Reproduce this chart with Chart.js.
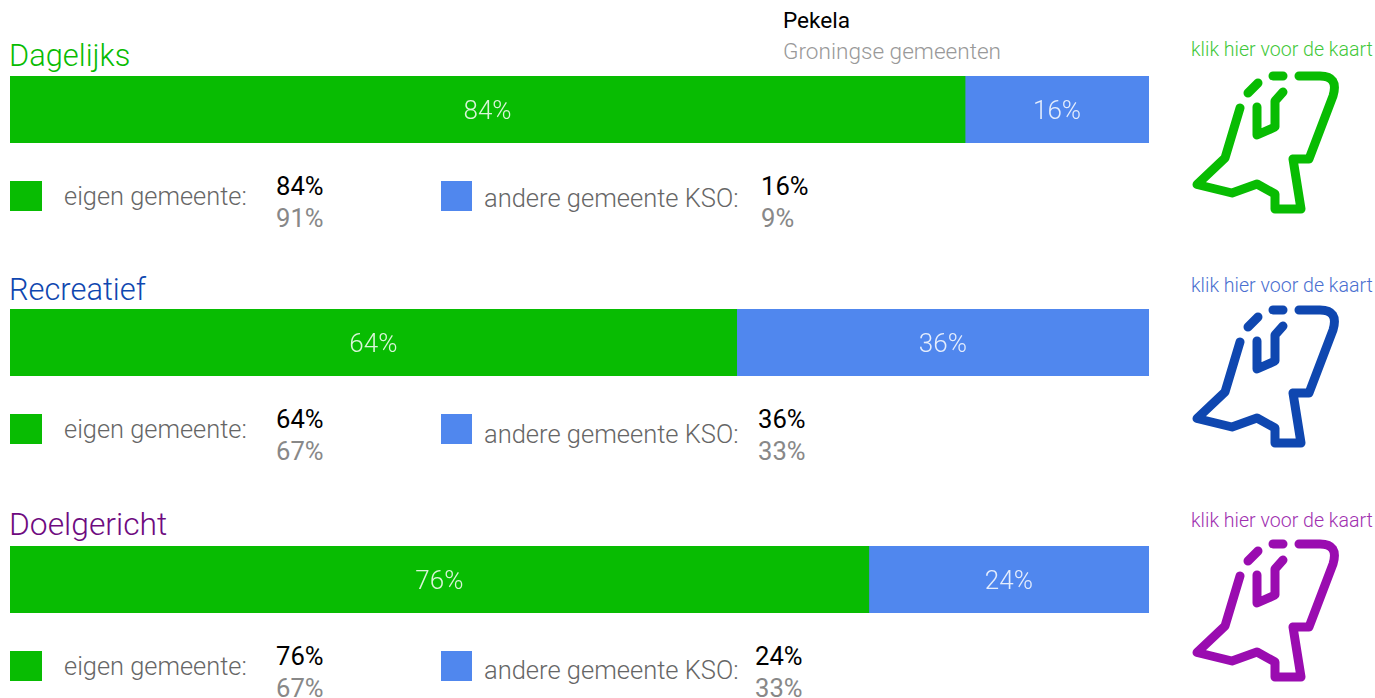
<!DOCTYPE html>
<html>
<head>
<meta charset="utf-8">
<script src="https://cdn.jsdelivr.net/npm/chart.js@4"></script>
<style>
  html, body { margin: 0; padding: 0; background: #fff; }
  body { position: relative; width: 1375px; height: 698px; overflow: hidden; font-family: Roboto, sans-serif; font-weight: 300; }
  .t { position: absolute; white-space: nowrap; line-height: 1; }
  .box { position: absolute; width: 32px; height: 30px; }
  .chart { position: absolute; left: 10px; width: 1139px; height: 67px; }
  svg { position: absolute; left: 0; top: 0; }
</style>
</head>
<body>
<svg width="1375" height="698" fill="none" stroke-linecap="round" stroke-linejoin="round" stroke-width="9">
  <defs>
    <g id="kaart">
      <path d="M1240 108 L1225 158 L1197 184.500 L1232 193 L1257 184 L1275 194 L1275 209 L1301 209 L1293 159 L1309 159 L1333 96 Q1339 76 1320 76 L1299 76"/>
      <path d="M1257 107 L1257 135 L1275 127 L1275 101 L1283 92"/>
      <path d="M1248 93 L1258 83"/>
      <path d="M1273 76 L1283 76"/>
    </g>
  </defs>
  <use href="#kaart" stroke="#08bc02"/>
  <use href="#kaart" y="234" stroke="#0f47b0"/>
  <use href="#kaart" y="468" stroke="#9a0cb0"/>
</svg>
<script>
// data
const rubrieken = ['Dagelijks', 'Recreatief', 'Doelgericht'];
const eigenGemeente = [83.85, 63.8, 75.4];
const andereGemeente = [16.15, 36.2, 24.6];
const eigenLabels = ['84%', '64%', '76%'];
const andereLabels = ['16%', '36%', '24%'];
const groningenEigen = ['91%', '67%', '67%'];
const groningenAndere = ['9%', '33%', '33%'];

const groen = '#08bc02';
const blauw = '#5087ee';
const titelKleuren = ['#08bc02', '#0f47b0', '#6e0a80'];
const linkKleuren = ['#3fc83a', '#4a6fd0', '#a030b0'];
const barTop = [76, 309, 546];
const titelTop = [41, 275, 509];
const titelSize = [30.8, 30.8, 31.8];
const linkTop = [39.500, 275.500, 510.500];
const rijTop = [174, 407, 644];
const andereTekstY = [12, 15, 14];
const andereLabelX = [761, 758, 755];

function addText(txt, x, y, size, color, weight) {
  const el = document.createElement('div');
  el.className = 't';
  el.textContent = txt;
  el.style.cssText = `left:${x}px;top:${y}px;font-size:${size}px;color:${color};font-weight:${weight || 300}`;
  document.body.appendChild(el);
}

function addBox(x, y, w, color) {
  const el = document.createElement('div');
  el.className = 'box';
  el.style.cssText = `left:${x}px;top:${y}px;width:${w}px;background:${color}`;
  document.body.appendChild(el);
}

// labels in the middle of each bar part
const barLabels = {
  id: 'barLabels',
  afterDatasetsDraw(chart) {
    const ctx = chart.ctx;
    ctx.save();
    ctx.font = '300 26px Roboto';
    ctx.fillStyle = 'rgba(255,255,255,0.85)';
    ctx.textAlign = 'center';
    ctx.textBaseline = 'middle';
    chart.data.datasets.forEach((ds, d) => {
      const bar = chart.getDatasetMeta(d).data[0];
      ctx.fillText(ds.tekst, (bar.x + bar.base) / 2, bar.y + 3);
    });
    ctx.restore();
  }
};

addText('Pekela', 783, 10, 22.6, '#000', 400);
addText('Groningse gemeenten', 783, 41, 22.6, '#999');

rubrieken.forEach((naam, i) => {
  addText(naam, 9, titelTop[i], titelSize[i], titelKleuren[i], 300);
  addText('klik hier voor de kaart', 1191, linkTop[i], 19.6, linkKleuren[i]);

  const wrap = document.createElement('div');
  wrap.className = 'chart';
  wrap.style.top = barTop[i] + 'px';
  const canvas = document.createElement('canvas');
  wrap.appendChild(canvas);
  document.body.appendChild(wrap);

  new Chart(canvas, {
    type: 'bar',
    data: {
      labels: [naam],
      datasets: [
        { data: [eigenGemeente[i]], backgroundColor: groen, tekst: eigenLabels[i] },
        { data: [andereGemeente[i]], backgroundColor: blauw, tekst: andereLabels[i] }
      ]
    },
    options: {
      indexAxis: 'y',
      animation: false,
      responsive: true,
      maintainAspectRatio: false,
      layout: { padding: 0 },
      plugins: { legend: { display: false }, tooltip: { enabled: false } },
      datasets: { bar: { barPercentage: 1, categoryPercentage: 1 } },
      scales: {
        x: { display: false, stacked: true, min: 0, max: 100 },
        y: { display: false, stacked: true }
      }
    },
    plugins: [barLabels]
  });

  const y = rijTop[i];
  addBox(10, y + 7, 32, groen);
  addText('eigen gemeente:', 64, y + 10, 25.4, '#666');
  addText(eigenLabels[i], 276, y, 25.6, '#000', 400);
  addText(groningenEigen[i], 276, y + 32, 25.6, '#888', 400);
  addBox(441, y + 7, 31, blauw);
  addText('andere gemeente KSO:', 484, y + andereTekstY[i], 25.5, '#666');
  addText(andereLabels[i], andereLabelX[i], y, 25.6, '#000', 400);
  addText(groningenAndere[i], andereLabelX[i], y + 32, 25.6, '#888', 400);
});
</script>
</body>
</html>
